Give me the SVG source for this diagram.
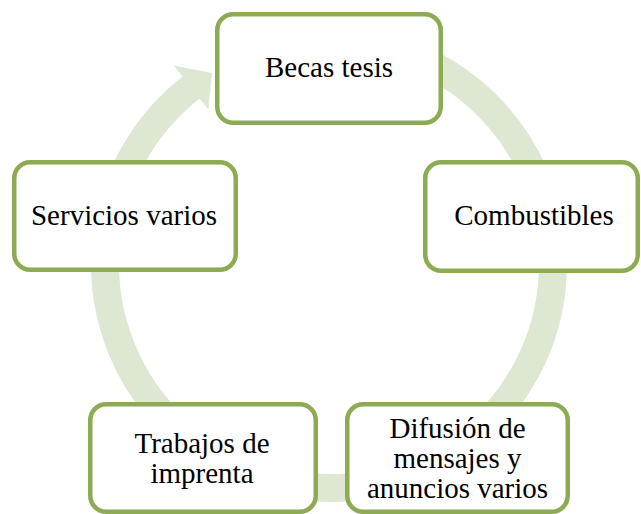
<svg xmlns="http://www.w3.org/2000/svg" width="641" height="514" viewBox="0 0 641 514">
<style>
.box{fill:#ffffff;stroke:#8cab52;stroke-width:4.5}
.t{font-family:"Liberation Serif","Times New Roman",serif;font-size:29px;fill:#000;text-anchor:middle}
.ring{fill:none;stroke:#dee7d2;stroke-width:28}
.head{fill:#dee7d2}
</style>
<rect width="641" height="514" fill="#ffffff"/>
<g id="connectors">
<path class="ring" d="M 386.97 47.63 A 224 224 0 1 1 194.19 85.11"/>
<polygon class="head" points="173.85,65.42 211.96,73.01 208.33,109.55"/>
</g>
<g id="becas">
<rect class="box" x="217.25" y="14.25" width="223.5" height="108.5" rx="16"/>
<text class="t" x="329" y="77">Becas tesis</text>
</g>
<g id="combustibles">
<rect class="box" x="425.25" y="162.25" width="212.5" height="108.5" rx="16"/>
<text class="t" x="534" y="225">Combustibles</text>
</g>
<g id="difusion">
<rect class="box" x="347.25" y="404.25" width="220.5" height="107.5" rx="16"/>
<text class="t" x="457.5" y="438">Difusión de</text>
<text class="t" x="457.5" y="468">mensajes y</text>
<text class="t" x="457.5" y="498">anuncios varios</text>
</g>
<g id="trabajos">
<rect class="box" x="90.25" y="404.25" width="225.5" height="107.5" rx="16"/>
<text class="t" x="202" y="453">Trabajos de</text>
<text class="t" x="202" y="483">imprenta</text>
</g>
<g id="servicios">
<rect class="box" x="14.25" y="162.25" width="221.5" height="107.5" rx="16"/>
<text class="t" x="124" y="225">Servicios varios</text>
</g>
</svg>
